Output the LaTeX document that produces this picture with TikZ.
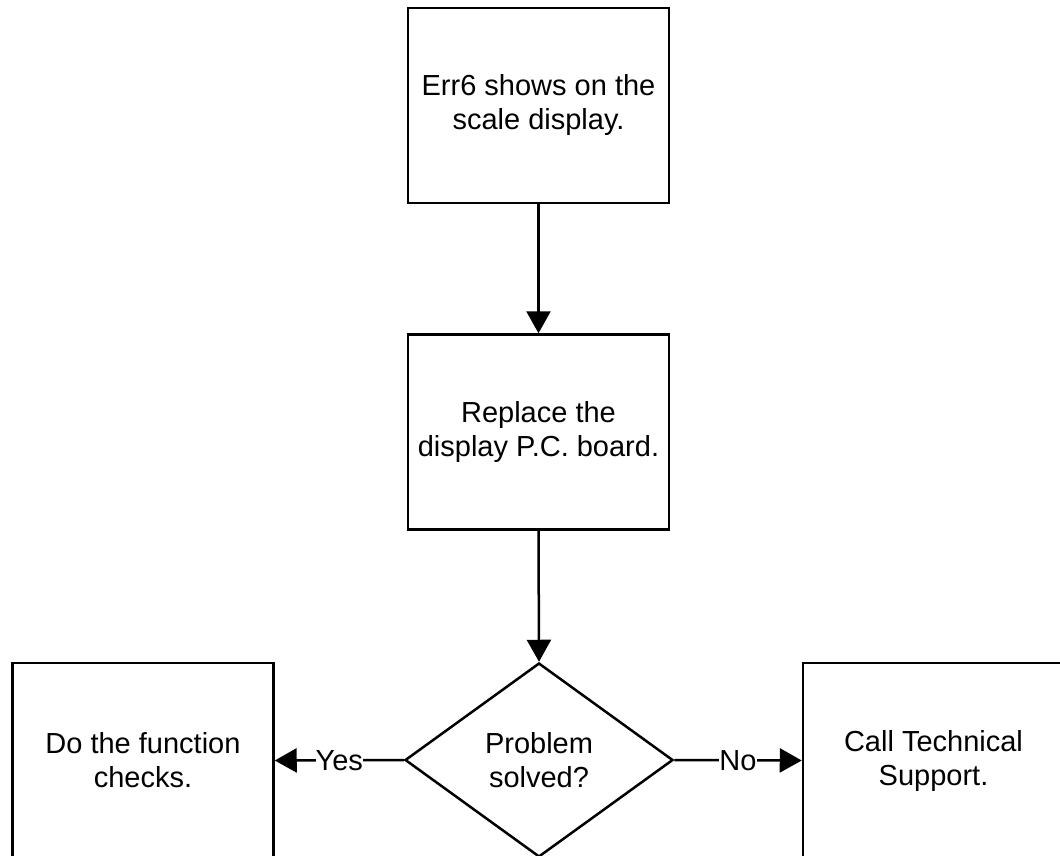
\documentclass[tikz,border=0pt]{standalone}
\usepackage{fontspec}
\setmainfont{Liberation Sans}
\usetikzlibrary{shapes.geometric,arrows.meta}
\begin{document}
\begin{tikzpicture}[x=1pt,y=-1pt,
  box/.style={draw=black, line width=2.5pt, minimum width=261pt, minimum height=195pt, align=center, inner sep=0pt},
  dia/.style={draw=black, line width=2.5pt, diamond, minimum width=268pt, minimum height=194pt, align=center, inner sep=0pt},
  txt/.style={font=\fontsize{29pt}{34pt}\selectfont},
  conn/.style={line width=2.5pt, -{Triangle[length=22pt,width=24pt]}},
  lbl/.style={fill=white, inner sep=0pt, font=\fontsize{29pt}{34pt}\selectfont}]
\useasboundingbox (0,0) rectangle (1060,856);
\clip (0,0) rectangle (1060,856);
\fill[white] (0,0) rectangle (1060,856);
\node[box,txt] (err) at (538.5,105.5) {Err6 shows on the\\scale display.};
\node[box,txt] (rep) at (538.5,432) {Replace the\\display P.C. board.};
\node[dia,txt] (prob) at (539,760) {Problem\\solved?};
\node[box,txt] (func) at (143,760.5) {Do the function\\checks.};
\node[box,txt] (call) at (933.5,760.5) {Call Technical\\Support.};
\draw[conn] (err.south) -- (rep.north);
\draw[conn] (rep.south) -- (prob.north);
\draw[conn] (prob.west) -- node[lbl] {Yes} (func.east);
\draw[conn] (prob.east) -- node[lbl] {No} (call.west);
\end{tikzpicture}
\end{document}
